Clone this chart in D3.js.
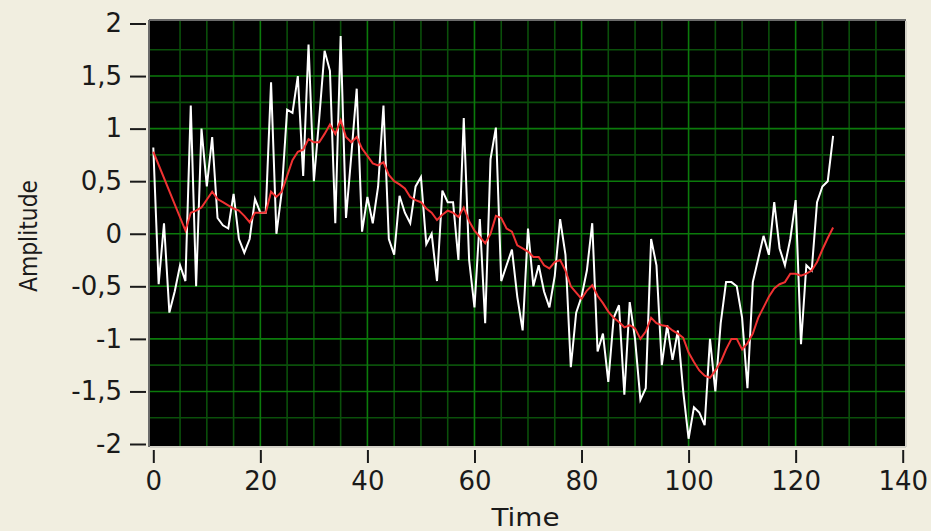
<!DOCTYPE html>
<html>
<head>
<meta charset="utf-8">
<script src="https://cdn.jsdelivr.net/npm/d3@7"></script>
<style>
  html, body { margin: 0; padding: 0; background: #f1eee0; }
  svg { display: block; }
  text { font-family: "DejaVu Sans", Verdana, sans-serif; fill: #1a1a1a; }
</style>
</head>
<body>
<svg id="chart" width="931" height="531"></svg>
<script>
// Axis ticks
const timeTicks = [0, 20, 40, 60, 80, 100, 120, 140];
const amplitudeTicks = [-2, -1.5, -1, -0.5, 0, 0.5, 1, 1.5, 2];

// Raw noisy signal, one sample per time step (0..127)
const rawSignal = [
  0.82, -0.48, 0.10, -0.75, -0.55, -0.30, -0.45, 1.22, -0.50, 1.00,
  0.45, 0.92, 0.15, 0.08, 0.05, 0.38, -0.05, -0.18, -0.05, 0.33,
  0.20, 0.20, 1.44, 0.00, 0.40, 1.18, 1.15, 1.50, 0.55, 1.80,
  0.50, 1.10, 1.74, 1.55, 0.10, 1.88, 0.15, 0.75, 1.38, 0.02,
  0.35, 0.10, 0.45, 1.22, -0.05, -0.20, 0.36, 0.20, 0.10, 0.45,
  0.54, -0.10, 0.00, -0.45, 0.41, 0.30, 0.30, -0.25, 1.10, -0.25,
  -0.70, 0.14, -0.85, 0.71, 1.01, -0.45, -0.30, -0.15, -0.60, -0.92,
  0.05, -0.50, -0.30, -0.55, -0.70, -0.40, 0.14, -0.20, -1.27, -0.75,
  -0.60, -0.35, 0.10, -1.12, -0.95, -1.41, -0.80, -0.68, -1.53, -0.65,
  -1.00, -1.58, -1.47, -0.05, -0.30, -1.25, -0.87, -1.20, -0.92, -1.50,
  -1.95, -1.65, -1.70, -1.82, -1.00, -1.50, -0.85, -0.46, -0.46, -0.50,
  -0.80, -1.47, -0.46, -0.24, -0.02, -0.20, 0.30, -0.14, -0.30, -0.05,
  0.32, -1.05, -0.30, -0.35, 0.30, 0.45, 0.50, 0.93
];

// Smoothed trend: vertices (time, value)
const smoothTime = [
  0, 6, 7, 8, 9, 11, 12, 13, 14, 15, 16, 17, 18, 19, 21, 22, 23, 24, 25, 26,
  27, 28, 29, 30, 31, 32, 33, 34, 35, 36, 37, 38, 39, 40, 41, 42, 43, 44, 45, 46,
  47, 48, 49, 50, 51, 52, 53, 54, 55, 56, 57, 58, 59, 60, 61, 62, 63, 64, 65, 66,
  67, 68, 69, 70, 71, 72, 73, 74, 75, 76, 77, 78, 79, 80, 81, 82, 83, 84, 85, 86,
  87, 88, 89, 90, 91, 92, 93, 94, 95, 96, 97, 98, 99, 100, 101, 102, 103, 104, 105, 106,
  107, 108, 109, 110, 111, 112, 113, 114, 115, 116, 117, 118, 119, 120, 121, 122, 123, 124, 125, 126,
  127
];
const smoothValue = [
  0.78, 0.03, 0.20, 0.22, 0.25, 0.40, 0.33, 0.30, 0.27, 0.24, 0.22, 0.17, 0.11, 0.20, 0.20, 0.40, 0.35, 0.40, 0.55, 0.70,
  0.78, 0.80, 0.90, 0.87, 0.87, 0.95, 1.04, 0.95, 1.08, 0.92, 0.87, 0.92, 0.81, 0.74, 0.67, 0.65, 0.68, 0.56, 0.50, 0.47,
  0.43, 0.35, 0.32, 0.30, 0.24, 0.20, 0.13, 0.18, 0.22, 0.20, 0.16, 0.25, 0.12, 0.03, -0.03, -0.09, 0.00, 0.17, 0.15, 0.05,
  0.02, -0.11, -0.14, -0.17, -0.22, -0.22, -0.30, -0.33, -0.27, -0.25, -0.35, -0.50, -0.56, -0.62, -0.54, -0.49, -0.59, -0.66, -0.74, -0.80,
  -0.84, -0.89, -0.87, -0.90, -1.00, -0.93, -0.80, -0.85, -0.87, -0.88, -0.92, -0.95, -0.99, -1.13, -1.22, -1.30, -1.35, -1.37, -1.30, -1.22,
  -1.10, -1.00, -1.00, -1.10, -1.04, -0.95, -0.80, -0.70, -0.60, -0.52, -0.48, -0.46, -0.38, -0.38, -0.40, -0.38, -0.35, -0.27, -0.15, -0.04,
  0.06
];

const svg = d3.select("#chart");
const W = 931, H = 531;

// Plot frame and scales
const frame = { left: 150, top: 21, right: 905, bottom: 446 };
const x = d3.scaleLinear().domain([0, 140]).range([153.3, 902.7]);
const y = d3.scaleLinear().domain([-2, 2]).range([444, 23.5]);

svg.append("rect").attr("width", W).attr("height", H).attr("fill", "#f1eee0");

svg.append("rect")
  .attr("x", frame.left).attr("y", frame.top)
  .attr("width", frame.right - frame.left).attr("height", frame.bottom - frame.top)
  .attr("fill", "#000");

// Grid: minor every 5 / 0.25, major every 20 / 0.5
const grid = svg.append("g");
const vMinor = d3.range(5, 140, 5).filter(v => v % 20 !== 0);
const vMajor = d3.range(20, 140, 20);
const hMinor = d3.range(-1.75, 2, 0.5);
const hMajor = d3.range(-1.5, 2, 0.5);

grid.selectAll(".vminor").data(vMinor).join("line")
  .attr("x1", d => x(d)).attr("x2", d => x(d))
  .attr("y1", frame.top).attr("y2", frame.bottom)
  .attr("stroke", "#0a4f0a").attr("stroke-width", 1.6);
grid.selectAll(".hminor").data(hMinor).join("line")
  .attr("y1", d => y(d)).attr("y2", d => y(d))
  .attr("x1", frame.left).attr("x2", frame.right)
  .attr("stroke", "#0a4f0a").attr("stroke-width", 1.6);
grid.selectAll(".vmajor").data(vMajor).join("line")
  .attr("x1", d => x(d)).attr("x2", d => x(d))
  .attr("y1", frame.top).attr("y2", frame.bottom)
  .attr("stroke", "#0b7a0b").attr("stroke-width", 1.6);
grid.selectAll(".hmajor").data(hMajor).join("line")
  .attr("y1", d => y(d)).attr("y2", d => y(d))
  .attr("x1", frame.left).attr("x2", frame.right)
  .attr("stroke", "#0b7a0b").attr("stroke-width", 1.6);

// Plot traces
svg.append("clipPath").attr("id", "plotClip").append("rect")
  .attr("x", frame.left).attr("y", frame.top)
  .attr("width", frame.right - frame.left).attr("height", frame.bottom - frame.top);

const traces = svg.append("g").attr("clip-path", "url(#plotClip)");

const rawLine = d3.line().x((d, i) => x(i)).y(d => y(d));
traces.append("path")
  .attr("d", rawLine(rawSignal))
  .attr("fill", "none").attr("stroke", "#ffffff").attr("stroke-width", 2)
  .attr("stroke-linejoin", "miter");

const smoothLine = d3.line().x(d => x(d[0])).y(d => y(d[1]));
traces.append("path")
  .attr("d", smoothLine(d3.zip(smoothTime, smoothValue)))
  .attr("fill", "none").attr("stroke", "#f03232").attr("stroke-width", 2);

// Sunken frame border
const border = svg.append("g");
border.append("line").attr("x1", frame.left - 1).attr("x2", frame.right + 1)
  .attr("y1", frame.top - 1).attr("y2", frame.top - 1).attr("stroke", "#6a6a6a").attr("stroke-width", 2);
border.append("line").attr("x1", frame.left - 1).attr("x2", frame.left - 1)
  .attr("y1", frame.top - 1).attr("y2", frame.bottom + 1).attr("stroke", "#6a6a6a").attr("stroke-width", 2);
border.append("line").attr("x1", frame.left).attr("x2", frame.right + 1)
  .attr("y1", frame.bottom + 1).attr("y2", frame.bottom + 1).attr("stroke", "#d4d2c8").attr("stroke-width", 2);
border.append("line").attr("x1", frame.right + 1).attr("x2", frame.right + 1)
  .attr("y1", frame.top).attr("y2", frame.bottom + 1).attr("stroke", "#d4d2c8").attr("stroke-width", 2);

// Axes
const fmt = v => String(v).replace(".", ",");

const yAxis = svg.append("g")
  .attr("transform", "translate(146,0)")
  .call(d3.axisLeft(y).tickValues(amplitudeTicks).tickFormat(fmt).tickSize(16).tickPadding(8));
const xAxis = svg.append("g")
  .attr("transform", "translate(0,450)")
  .call(d3.axisBottom(x).tickValues(timeTicks).tickFormat(fmt).tickSize(13).tickPadding(9));

[yAxis, xAxis].forEach(g => {
  g.select(".domain").remove();
  g.selectAll(".tick line").attr("stroke", "#1a1a1a").attr("stroke-width", 2);
  g.selectAll(".tick text")
    .attr("fill", "#1a1a1a")
    .style("font-family", "'DejaVu Sans', Verdana, sans-serif")
    .style("font-size", "26px");
});

// Axis titles
svg.append("text")
  .attr("x", 525.5).attr("y", 526)
  .attr("text-anchor", "middle")
  .attr("textLength", 68).attr("lengthAdjust", "spacingAndGlyphs")
  .style("font-size", "25px")
  .text("Time");

svg.append("text")
  .attr("transform", "translate(37,236) rotate(-90)")
  .attr("text-anchor", "middle")
  .attr("textLength", 112).attr("lengthAdjust", "spacingAndGlyphs")
  .style("font-size", "24px")
  .text("Amplitude");
</script>
</body>
</html>
